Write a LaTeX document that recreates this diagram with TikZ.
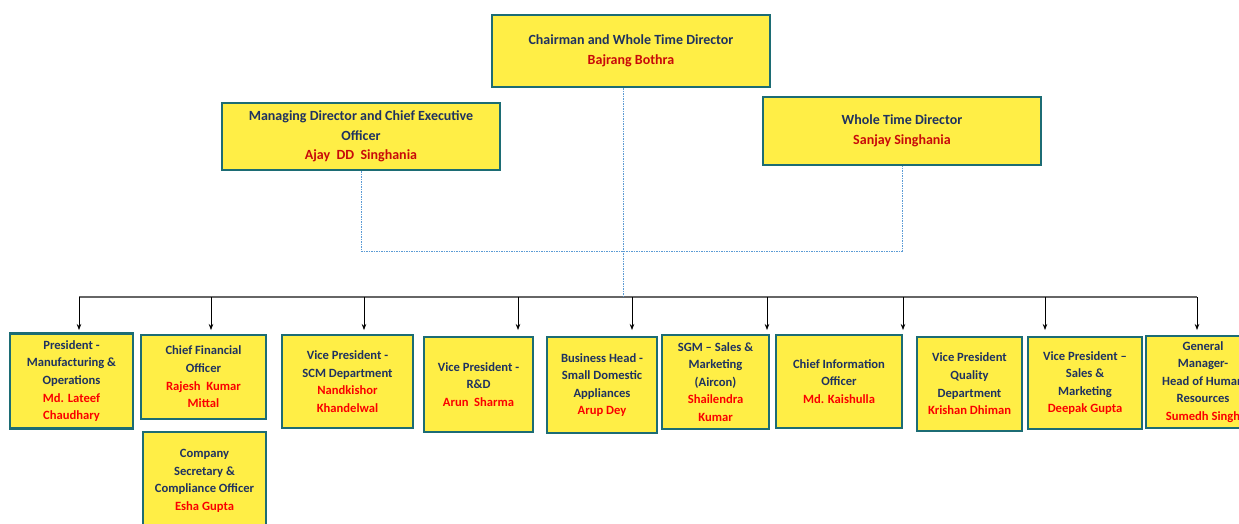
\documentclass[tikz,border=0pt]{standalone}
\usepackage{fontspec}
\setmainfont{Carlito}
\usetikzlibrary{arrows.meta}
\definecolor{boxfill}{RGB}{255,238,70}
\definecolor{boxline}{RGB}{28,108,116}
\definecolor{roletext}{RGB}{31,50,96}
\definecolor{topname}{RGB}{200,10,10}
\definecolor{name}{RGB}{250,0,0}
\definecolor{dashblue}{RGB}{91,155,213}
\newcommand{\topwho}[1]{\textcolor{topname}{#1}}
\newcommand{\who}[1]{\textcolor{name}{#1}}

\begin{document}
\begin{tikzpicture}[x=1pt, y=-1pt,
    post/.style={draw=boxline, line width=2.4pt, fill=boxfill, inner sep=0pt,
      align=center, text=roletext, font=\fontsize{12.6}{17.6}\selectfont\bfseries},
    toppost/.style={post, font=\fontsize{14}{19.5}\selectfont\bfseries},
    link/.style={dashblue, line width=0.8pt, dash pattern=on 1.5pt off 1pt},
    feed/.style={-{Stealth[length=6pt,width=4.5pt]}, line width=0.7pt}]
  \clip (0,0) rectangle (1239,523);
  % Board
  \node[toppost, minimum width=278, minimum height=72] (chair) at (631,51)
    {Chairman and Whole Time Director\\ \topwho{Bajrang Bothra}};
  \node[toppost, minimum width=278, minimum height=67] (md) at (361,136.5)
    {Managing Director and Chief Executive\\ Officer\\ \topwho{Ajay\ \ DD\ \ Singhania}};
  \node[toppost, minimum width=278, minimum height=68] (wtd) at (902,131)
    {Whole Time Director\\ \topwho{Sanjay Singhania}};
  % Management
  \node[post, minimum width=123, minimum height=95] (mfg) at (71.5,381)
    {President -\\ Manufacturing \&\\ Operations\\ \who{Md. Lateef}\\ \who{Chaudhary}};
  \node[post, minimum width=125, minimum height=84] (cfo) at (203.5,377)
    {Chief Financial\\ Officer\\ \who{Rajesh\ \ Kumar}\\ \who{Mittal}};
  \node[post, minimum width=123, minimum height=98] (cs) at (204.5,481)
    {Company\\ Secretary \&\\ Compliance Officer\\ \who{Esha Gupta}};
  \node[post, minimum width=131, minimum height=93] (scm) at (347.5,381.5)
    {Vice President -\\ SCM Department\\ \who{Nandkishor}\\ \who{Khandelwal}};
  \node[post, minimum width=109, minimum height=95] (rnd) at (478.5,384.5)
    {Vice President -\\ R\&D\\ \who{Arun\ \ Sharma}};
  \node[post, minimum width=110, minimum height=96] (sda) at (602,385)
    {Business Head -\\ Small Domestic\\ Appliances\\ \who{Arup Dey}};
  \node[post, minimum width=107, minimum height=94] (sgm) at (715.5,382)
    {SGM -- Sales \&\\ Marketing\\ (Aircon)\\ \who{Shailendra}\\ \who{Kumar}};
  \node[post, minimum width=126, minimum height=93] (cio) at (839,381.5)
    {Chief Information\\ Officer\\ \who{Md. Kaishulla}};
  \node[post, minimum width=105, minimum height=94] (qa) at (969.5,384)
    {Vice President\\ Quality\\ Department\\ \who{Krishan Dhiman}};
  \node[post, minimum width=114, minimum height=92] (sales) at (1085,383)
    {Vice President --\\ Sales \&\\ Marketing\\ \who{Deepak Gupta}};
  \node[post, minimum width=114, minimum height=92] (hr) at (1203,382)
    {General\\ Manager-\\ Head of Human\\ Resources\\ \who{Sumedh Singh}};
  % Bus line and arrows
  \coordinate (busL) at (79,297);
  \coordinate (busR) at (1197,297);
  \draw[black!60, line width=1.6pt] (busL) -- (busR);
  \foreach \ax [count=\i] in {79,211,364,518,632,767,903,1045,1197} {
    \coordinate (tip\i) at (\ax,330);
    \draw[feed] (tip\i |- busL) -- (tip\i);
  }
  % Dashed reporting lines
  \coordinate (drop) at (623,297);
  \coordinate (join) at (623,251);
  \draw[link] (chair.south -| drop) -- (drop);
  \draw[link] (md.south) |- (join) -| (wtd.south);
\end{tikzpicture}
\end{document}
